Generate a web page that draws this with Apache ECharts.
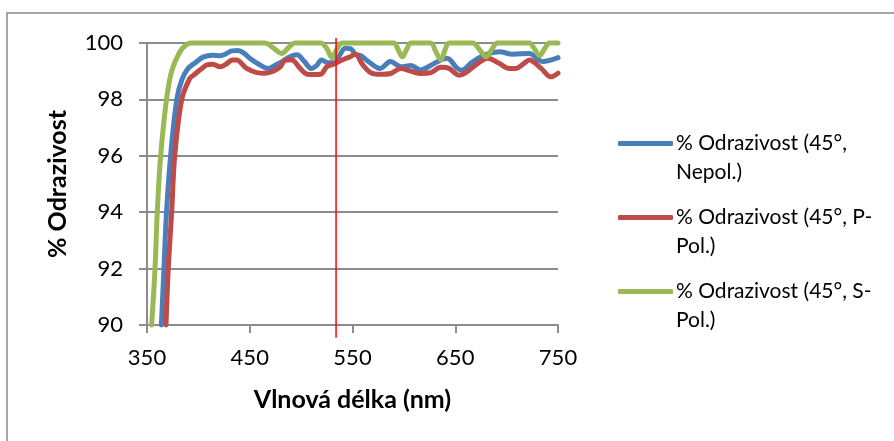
<!DOCTYPE html>
<html>
<head>
<meta charset="utf-8">
<script src="https://cdn.jsdelivr.net/npm/echarts@6/dist/echarts.min.js"></script>
<style>
  html, body { margin: 0; padding: 0; background: #fff; }
  #chart { width: 894px; height: 441px; }
</style>
</head>
<body>
<div id="chart"></div>
<script>
// osa x a y
const xTicks = [350, 450, 550, 650, 750];
const yTicks = [90, 92, 94, 96, 98, 100];

// % Odrazivost (45°, Nepol.)
const nepolX = [364, 366.5, 369, 373, 379, 384, 390, 397, 404.5, 414, 421, 426, 432.5, 438.6, 444, 450, 460, 468, 476, 482, 489, 496, 503, 510, 515, 520, 526, 532, 538, 543, 548, 553, 558, 567, 577, 587, 597, 607, 616, 626, 636, 642, 652, 657, 665, 675, 683, 693, 706, 722, 735, 750];
const nepolY = [90, 92, 94, 96, 98, 98.7, 99.1, 99.3, 99.5, 99.57, 99.55, 99.6, 99.72, 99.73, 99.65, 99.46, 99.22, 99.1, 99.24, 99.35, 99.51, 99.58, 99.35, 99.1, 99.2, 99.4, 99.3, 99.3, 99.6, 99.81, 99.8, 99.6, 99.55, 99.3, 99.1, 99.34, 99.16, 99.2, 99.04, 99.2, 99.4, 99.46, 99.1, 99.04, 99.28, 99.51, 99.63, 99.69, 99.6, 99.63, 99.34, 99.48];

// % Odrazivost (45°, P-Pol.)
const ppolX = [368.5, 370.7, 374, 377, 383.8, 391.7, 395, 401.5, 408, 414, 421, 427, 433, 437, 447, 457, 465, 473, 479.6, 485, 491, 499, 506, 512, 519, 525, 531.5, 540, 547, 553, 559.5, 567.6, 577, 587, 597, 606.7, 616.5, 626, 636, 644, 653.6, 660, 670, 681.6, 692.7, 702, 709, 717, 722, 733.6, 743, 750];
const ppolY = [90, 92, 94, 96, 98, 98.75, 98.85, 99.04, 99.22, 99.25, 99.16, 99.25, 99.4, 99.4, 99.1, 98.95, 98.93, 99.0, 99.15, 99.4, 99.4, 99.1, 98.89, 98.88, 98.89, 99.16, 99.25, 99.4, 99.5, 99.6, 99.25, 98.95, 98.89, 98.92, 99.1, 99.0, 98.92, 98.95, 99.14, 99.1, 98.86, 98.94, 99.22, 99.46, 99.28, 99.1, 99.1, 99.28, 99.4, 99.1, 98.8, 98.93];

// % Odrazivost (45°, S-Pol.)
const spolX = [354.5, 357.8, 360, 363.3, 369, 374, 382, 388, 393, 465, 472, 481, 488, 494, 519, 525, 530, 535, 540, 590, 594, 598.5, 603, 607, 626, 631, 636, 640, 644, 667, 673, 680, 686, 691, 722, 727, 732, 737, 741.5, 750];
const spolY = [90, 92, 94, 96, 98, 99, 99.69, 99.93, 100, 100, 99.85, 99.63, 99.85, 100, 100, 99.8, 99.48, 99.8, 100, 100, 99.8, 99.51, 99.8, 100, 100, 99.7, 99.4, 99.75, 100, 100, 99.8, 99.51, 99.8, 100, 100, 99.8, 99.55, 99.8, 100, 100];

// svislá červená čára
const markX = [534, 534];
const markY = [100.18, 89.55];

const names = ['% Odrazivost (45°, Nepol.)', '% Odrazivost (45°, P-Pol.)', '% Odrazivost (45°, S-Pol.)'];
const legendText = ['% Odrazivost (45°,\nNepol.)', '% Odrazivost (45°, P-\nPol.)', '% Odrazivost (45°, S-\nPol.)'];
const colors = ['#4a7ebb', '#be4b48', '#98b954'];

const pairs = (xs, ys) => xs.map((x, i) => [x, ys[i]]);
const FONT = 'Lato, "Liberation Sans", sans-serif';

const myChart = echarts.init(document.getElementById('chart'));

// jedna legenda pro kazdou radu, ikona zarovnana na prvni radek textu
const makeLegend = (i, top) => ({
  data: [names[i]],
  left: 618,
  top: top,
  orient: 'vertical',
  icon: 'roundRect',
  itemWidth: 55,
  itemHeight: 5,
  itemGap: 0,
  padding: 0,
  formatter: () => '\n' + legendText[i],
  textStyle: { fontFamily: FONT, fontSize: 21, color: '#000', lineHeight: 29, padding: [0, 0, 0, -2] }
});

const lineSeries = (i, xs, ys) => ({
  name: names[i],
  type: 'line',
  data: pairs(xs, ys),
  smooth: 0.35,
  showSymbol: false,
  clip: false,
  lineStyle: { color: colors[i], width: 5, cap: 'round', join: 'round' },
  itemStyle: { color: colors[i] }
});

const option = {
  animation: false,
  graphic: [{
    type: 'rect',
    shape: { x: 7, y: 13, width: 900, height: 440 },
    style: { fill: 'none', stroke: '#898989', lineWidth: 1.5 },
    z: -1
  }],
  legend: [makeLegend(0, 100), makeLegend(1, 174), makeLegend(2, 248)],
  grid: { left: 147, right: 336, top: 43, bottom: 116, containLabel: false },
  xAxis: {
    type: 'value',
    min: xTicks[0],
    max: xTicks[xTicks.length - 1],
    interval: 100,
    name: 'Vlnová délka (nm)',
    nameLocation: 'middle',
    nameGap: 62,
    nameTextStyle: { fontFamily: FONT, fontSize: 25, fontWeight: 'bold', color: '#000' },
    axisLine: { lineStyle: { color: '#8c8c8c', width: 2 } },
    axisTick: { show: true, length: 8, inside: false, lineStyle: { color: '#8c8c8c', width: 2 } },
    axisLabel: { fontFamily: FONT, fontSize: 22, color: '#000', margin: 22 },
    splitLine: { show: false }
  },
  yAxis: {
    type: 'value',
    min: yTicks[0],
    max: yTicks[yTicks.length - 1],
    interval: 2,
    name: '% Odrazivost',
    nameLocation: 'middle',
    nameRotate: 90,
    nameGap: 77,
    nameTextStyle: { fontFamily: FONT, fontSize: 25, fontWeight: 'bold', color: '#000' },
    axisLine: { show: true, lineStyle: { color: '#8c8c8c', width: 2 } },
    axisTick: { show: true, length: 8, lineStyle: { color: '#8c8c8c', width: 2 } },
    axisLabel: { fontFamily: FONT, fontSize: 22, color: '#000', margin: 24 },
    splitLine: { show: true, lineStyle: { color: '#8c8c8c', width: 2 } }
  },
  series: [
    lineSeries(0, nepolX, nepolY),
    lineSeries(1, ppolX, ppolY),
    lineSeries(2, spolX, spolY),
    {
      name: 'marker',
      type: 'line',
      data: pairs(markX, markY),
      showSymbol: false,
      clip: false,
      lineStyle: { color: '#ff0000', width: 1.5 },
      z: 5
    }
  ]
};

myChart.setOption(option);
window.addEventListener('resize', () => myChart.resize());
</script>
</body>
</html>
